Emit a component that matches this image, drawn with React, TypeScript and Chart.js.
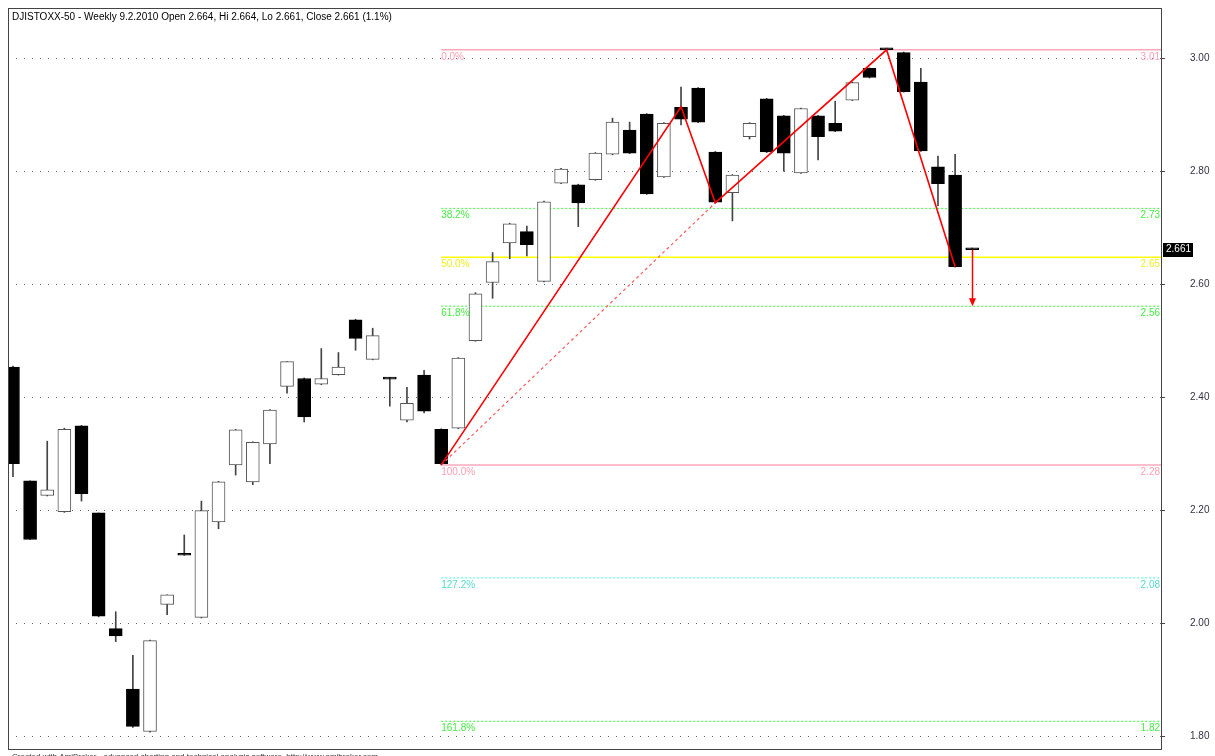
import React, { useEffect, useRef } from 'react';
import { Chart, registerables } from 'chart.js';

Chart.register(...registerables);

const TITLE = 'DJISTOXX-50 - Weekly 9.2.2010 Open 2.664, Hi 2.664, Lo 2.661, Close 2.661 (1.1%)';
const FOOTER = 'Created with AmiBroker - advanced charting and technical analysis software. http://www.amibroker.com';

// Weekly candles (index 0..56)
const OPEN = [
  2.453, 2.252, 2.226, 2.197, 2.349, 2.195, 1.990, 1.883, 1.808, 2.033,
  2.122, 2.010, 2.179, 2.280, 2.250, 2.317, 2.419, 2.433, 2.423, 2.440,
  2.537, 2.467, 2.434, 2.359, 2.439, 2.343, 2.345, 2.500, 2.603, 2.673,
  2.693, 2.605, 2.779, 2.776, 2.785, 2.830, 2.873, 2.901, 2.790, 2.913,
  2.947, 2.834, 2.762, 2.861, 2.928, 2.898, 2.797, 2.898, 2.885, 2.926,
  2.982, 3.017, 3.010, 2.958, 2.808, 2.793, 2.664,
];
const HIGH = [
  2.455, 2.252, 2.322, 2.345, 2.350, 2.195, 2.020, 1.943, 1.970, 2.050,
  2.156, 2.216, 2.251, 2.343, 2.321, 2.378, 2.463, 2.434, 2.486, 2.479,
  2.538, 2.522, 2.435, 2.4175, 2.4475, 2.344, 2.470, 2.585, 2.656, 2.708,
  2.703, 2.747, 2.805, 2.777, 2.833, 2.894, 2.887, 2.902, 2.886, 2.949,
  2.948, 2.835, 2.794, 2.886, 2.929, 2.899, 2.912, 2.899, 2.924, 2.958,
  2.983, 3.018, 3.011, 2.982, 2.827, 2.830, 2.664,
];
const LOW = [
  2.259, 2.148, 2.225, 2.196, 2.216, 2.011, 1.967, 1.815, 1.807, 2.015,
  2.120, 2.009, 2.167, 2.262, 2.245, 2.282, 2.407, 2.356, 2.422, 2.439,
  2.483, 2.466, 2.384, 2.356, 2.372, 2.280, 2.344, 2.499, 2.575, 2.645,
  2.650, 2.604, 2.778, 2.702, 2.784, 2.829, 2.831, 2.759, 2.789, 2.882,
  2.886, 2.744, 2.712, 2.857, 2.833, 2.800, 2.796, 2.820, 2.870, 2.925,
  2.965, 3.015, 2.940, 2.835, 2.739, 2.630, 2.661,
];
const CLOSE = [
  2.282, 2.148, 2.236, 2.343, 2.229, 2.012, 1.977, 1.817, 1.969, 2.050,
  2.120, 2.199, 2.250, 2.342, 2.320, 2.377, 2.463, 2.365, 2.433, 2.453,
  2.504, 2.509, 2.432, 2.389, 2.375, 2.282, 2.469, 2.583, 2.640, 2.707,
  2.670, 2.746, 2.804, 2.744, 2.832, 2.887, 2.832, 2.760, 2.885, 2.892,
  2.887, 2.745, 2.793, 2.885, 2.834, 2.832, 2.911, 2.861, 2.871, 2.957,
  2.966, 3.015, 2.941, 2.836, 2.778, 2.631, 2.661,
];

const Y_TICKS = [1.8, 2.0, 2.2, 2.4, 2.6, 2.8, 3.0];

// Fibonacci retracement
const FIB_START = 25;
const FIB_LEVELS = [3.015, 2.734, 2.6475, 2.561, 2.28, 2.08, 1.826];
const FIB_LABELS = ['0.0%', '38.2%', '50.0%', '61.8%', '100.0%', '127.2%', '161.8%'];
const FIB_VALUE_LABELS = ['3.01', '2.73', '2.65', '2.56', '2.28', '2.08', '1.82'];
const FIB_LINE_COLORS = ['#ffa8bc', '#55ff55', '#ffff00', '#55ff55', '#ffa8bc', '#66ffd8', '#55ff55'];
const FIB_TEXT_COLORS = ['#ffa0b4', '#44ee44', '#eeee22', '#44ee44', '#ffa0b4', '#55ddcc', '#44ee44'];
const FIB_DASHED = [false, true, false, true, false, true, true];

// ZigZag
const ZIGZAG_X = [25, 39, 41, 51, 55];
const ZIGZAG_Y = [2.28, 2.914, 2.744, 3.015, 2.631];
const TREND_X = [25, 41];
const TREND_Y = [2.28, 2.744];

const LAST_INDEX = 56;
const LAST_PRICE = 2.661;
const TARGET_PRICE = 2.561;

const X_MIN = -0.29;
const X_MAX = 67.02;
const Y_MIN = 1.777;
const Y_MAX = 3.089;

const FONT = '"Liberation Sans", Arial, sans-serif';

export default function App() {
  const ref = useRef<HTMLCanvasElement | null>(null);

  useEffect(() => {
    const canvas = ref.current;
    if (!canvas) return;
    const idx = OPEN.map((_, i) => i);
    const up = idx.map((i) => CLOSE[i] > OPEN[i]);

    const fibSets = FIB_LEVELS.map((lv, k) => ({
      type: 'line' as const,
      data: [
        { x: FIB_START, y: lv },
        { x: X_MAX, y: lv },
      ],
      borderColor: FIB_LINE_COLORS[k],
      borderWidth: FIB_DASHED[k] ? 1.2 : 1.5,
      borderDash: FIB_DASHED[k] ? [2, 2] : [],
      pointRadius: 0,
      fill: false,
      order: 10,
    }));

    const overlay = {
      id: 'overlay',
      afterDatasetsDraw(chart: any) {
        const { ctx, chartArea } = chart;
        const xs = chart.scales.x;
        const ys = chart.scales.y;
        ctx.save();
        ctx.font = `10px ${FONT}`;
        ctx.textBaseline = 'alphabetic';
        FIB_LEVELS.forEach((lv, k) => {
          const py = ys.getPixelForValue(lv);
          ctx.fillStyle = FIB_TEXT_COLORS[k];
          ctx.textAlign = 'left';
          ctx.fillText(FIB_LABELS[k], xs.getPixelForValue(FIB_START), py + 10);
          ctx.textAlign = 'right';
          ctx.fillText(FIB_VALUE_LABELS[k], chartArea.right - 1, py + 10);
        });
        // arrow
        const ax = Math.round(xs.getPixelForValue(LAST_INDEX)) + 0.5;
        const ay1 = ys.getPixelForValue(LAST_PRICE);
        const ay2 = ys.getPixelForValue(TARGET_PRICE);
        ctx.strokeStyle = '#ff0000';
        ctx.fillStyle = '#ff0000';
        ctx.lineWidth = 1.5;
        ctx.beginPath();
        ctx.moveTo(ax, ay1);
        ctx.lineTo(ax, ay2 - 6);
        ctx.stroke();
        ctx.beginPath();
        ctx.moveTo(ax, ay2);
        ctx.lineTo(ax - 3.5, ay2 - 8);
        ctx.lineTo(ax + 3.5, ay2 - 8);
        ctx.closePath();
        ctx.fill();
        ctx.restore();
      },
      afterDraw(chart: any) {
        const { ctx, chartArea } = chart;
        const ys = chart.scales.y;
        ctx.save();
        // frame
        ctx.strokeStyle = '#444';
        ctx.lineWidth = 1;
        ctx.strokeRect(
          Math.round(chartArea.left) + 0.5,
          Math.round(chartArea.top) + 0.5,
          Math.round(chartArea.right - chartArea.left),
          Math.round(chartArea.bottom - chartArea.top)
        );
        // title
        ctx.fillStyle = '#000';
        ctx.font = `10px ${FONT}`;
        ctx.textAlign = 'left';
        ctx.textBaseline = 'alphabetic';
        ctx.fillText(TITLE, 12, 20);
        // footer
        ctx.fillStyle = '#333';
        ctx.font = `8px ${FONT}`;
        ctx.fillText(FOOTER, 12, 759);
        // last price label
        const py = ys.getPixelForValue(LAST_PRICE);
        const bx = chartArea.right + 2;
        ctx.fillStyle = '#000';
        ctx.fillRect(bx, Math.round(py - 7), 30, 14);
        ctx.fillStyle = '#fff';
        ctx.font = `10px ${FONT}`;
        ctx.textBaseline = 'middle';
        ctx.fillText(LAST_PRICE.toFixed(3), bx + 3, py);
        ctx.restore();
      },
    };

    const chart = new Chart(canvas, {
      type: 'bar',
      data: {
        datasets: [
          ...fibSets,
          {
            type: 'bar',
            data: idx.map((i) => ({ x: i, y: [LOW[i], HIGH[i]] })),
            backgroundColor: '#444',
            borderWidth: 0,
            barThickness: 1,
            grouped: false,
            order: 5,
          } as any,
          {
            type: 'bar',
            data: idx.map((i) => ({
              x: i,
              y: [Math.min(OPEN[i], CLOSE[i]), Math.max(OPEN[i], CLOSE[i])],
            })),
            backgroundColor: up.map((u) => (u ? '#ffffff' : '#000000')),
            borderColor: up.map((u) => (u ? '#555555' : '#000000')),
            borderWidth: 1,
            borderSkipped: false,
            barThickness: 13,
            minBarLength: 2,
            grouped: false,
            order: 4,
          } as any,
          {
            type: 'line',
            data: TREND_X.map((x, k) => ({ x, y: TREND_Y[k] })),
            borderColor: '#ff5a5a',
            borderWidth: 1.2,
            borderDash: [3, 3],
            pointRadius: 0,
            fill: false,
            order: 1,
          },
          {
            type: 'line',
            data: ZIGZAG_X.map((x, k) => ({ x, y: ZIGZAG_Y[k] })),
            borderColor: '#ff0000',
            borderWidth: 1.6,
            pointRadius: 0,
            fill: false,
            tension: 0,
            order: 0,
          },
        ] as any,
      },
      options: {
        animation: false,
        responsive: false,
        maintainAspectRatio: false,
        layout: { padding: { left: 8, top: 8, right: 0, bottom: 7 } },
        plugins: { legend: { display: false }, tooltip: { enabled: false } },
        scales: {
          x: {
            type: 'linear',
            min: X_MIN,
            max: X_MAX,
            offset: false,
            display: false,
          },
          y: {
            type: 'linear',
            position: 'right',
            min: Y_MIN,
            max: Y_MAX,
            beginAtZero: false,
            afterBuildTicks: (scale: any) => {
              scale.ticks = Y_TICKS.map((v) => ({ value: v }));
            },
            afterFit: (scale: any) => {
              scale.width = 54;
              scale.paddingTop = 0;
              scale.paddingBottom = 0;
            },
            grid: {
              color: '#666',
              lineWidth: 1,
              drawTicks: true,
              tickLength: 4,
              tickColor: '#444',
              tickBorderDash: [],
            } as any,
            border: { display: true, color: '#333', width: 1, dash: [1, 7] },
            ticks: {
              padding: 25,
              color: '#333344',
              font: { family: FONT, size: 10 },
              callback: (v: any) => Number(v).toFixed(2),
            },
          },
        },
      },
      plugins: [overlay],
    } as any);

    return () => chart.destroy();
  }, []);

  return (
    <div style={{ position: 'fixed', left: 0, top: 0, width: 1215, height: 756, background: '#fff' }}>
      <canvas ref={ref} width={1215} height={756} style={{ display: 'block' }} />
    </div>
  );
}
